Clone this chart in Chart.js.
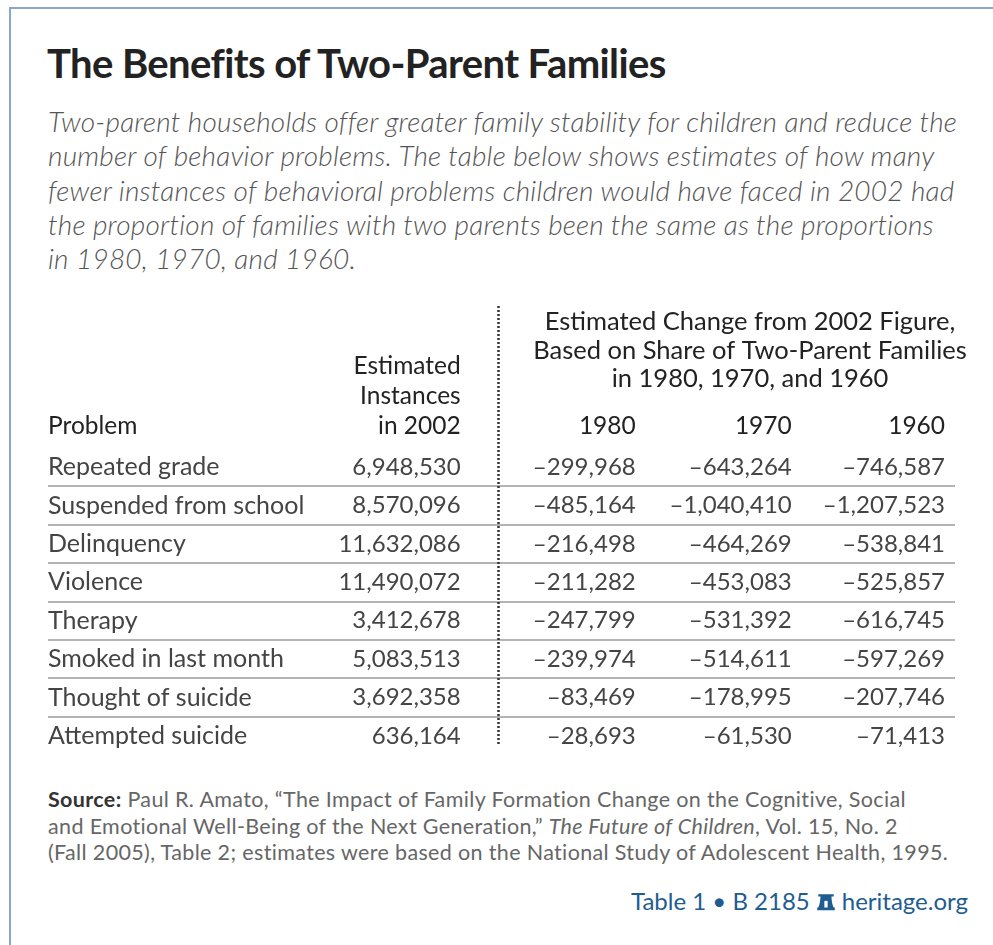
<!DOCTYPE html>
<html>
<head>
<meta charset="utf-8">
<title>The Benefits of Two-Parent Families</title>
<script src="https://cdn.jsdelivr.net/npm/chart.js@4.4.1/dist/chart.umd.min.js"></script>
<style>
  html, body { margin: 0; padding: 0; background: #fff; }
  body { width: 993px; height: 945px; position: relative; overflow: hidden; font-family: Lato, "Open Sans", sans-serif; }
  .frame { position: absolute; left: 9px; top: 7px; right: -2px; bottom: -2px; border-left: 2px solid #8aa6cb; border-top: 2px solid #8aa6cb; }
  #title { position: absolute; left: 47px; top: 40px; font-weight: 700; font-size: 40px; line-height: 46px; color: #222; letter-spacing: -0.6px; white-space: nowrap; }
  #subtitle { position: absolute; left: 48px; top: 104px; width: 930px; font-style: italic; font-weight: 300; font-size: 28px; line-height: 34.3px; color: #555; white-space: nowrap; letter-spacing: 0.2px; }
  #tableWrap { position: absolute; left: 0; top: 300px; width: 993px; height: 460px; }
  #source { position: absolute; left: 48px; top: 786px; font-size: 21.5px; line-height: 26.5px; color: #666; white-space: nowrap; letter-spacing: 0.35px; }
  #source b { color: #333; }
  #credit { position: absolute; right: 25px; top: 886px; font-size: 24px; line-height: 30px; color: #1f5c92; white-space: nowrap; }
  #credit svg { vertical-align: -3px; margin: 0 5px; }
</style>
</head>
<body>
<div class="frame"></div>
<div id="title">The Benefits of Two-Parent Families</div>
<div id="subtitle">Two-parent households offer greater family stability for children and reduce the<br>number of behavior problems. The table below shows estimates of how many<br>fewer instances of behavioral problems children would have faced in 2002 had<br>the proportion of families with two parents been the same as the proportions<br>in 1980, 1970, and 1960.</div>
<div id="tableWrap"><canvas id="table"></canvas></div>
<div id="source"><b>Source:</b> Paul R. Amato, “The Impact of Family Formation Change on the Cognitive, Social<br>and Emotional Well-Being of the Next Generation,” <i>The Future of Children</i>, Vol. 15, No. 2<br>(Fall 2005), Table 2; estimates were based on the National Study of Adolescent Health, 1995.</div>
<div id="credit">Table 1 • B 2185<svg width="22" height="22" viewBox="0 0 20 20"><path d="M3 3h14v2H3z M5 5c0 0 0 6 -2 10h14c-2-4-2-10-2-10z M2 15h16v2.5H2z" fill="#1f5c92"/><path d="M8.5 9h3v6h-3z" fill="#fff"/></svg>heritage.org</div>

<script>
const problems = [
    "Repeated grade",
    "Suspended from school",
    "Delinquency",
    "Violence",
    "Therapy",
    "Smoked in last month",
    "Thought of suicide",
    "Attempted suicide"
];
const instances2002 = [6948530, 8570096, 11632086, 11490072, 3412678, 5083513, 3692358, 636164];
const change1980 = [-299968, -485164, -216498, -211282, -247799, -239974, -83469, -28693];
const change1970 = [-643264, -1040410, -464269, -453083, -531392, -514611, -178995, -61530];
const change1960 = [-746587, -1207523, -538841, -525857, -616745, -597269, -207746, -71413];
const yearLabels = ["1980", "1970", "1960"];
const instancesHeader = ["Estimated", "Instances", "in 2002"];
const groupHeader = ["Estimated Change from 2002 Figure,", "Based on Share of Two-Parent Families", "in 1980, 1970, and 1960"];

// column anchors on the 0-100 x scale (right edges for numbers)
const colProblem = 0;
const colInstances = 45.5;
const colYears = [64.8, 82.0, 98.9];
const dividerAt = 49.6;
const groupCentre = 77.4;

function fmt(n) {
    return n.toLocaleString("en-US").replace("-", "\u2013");
}

function column(values, x, texts, align, font) {
    return {
        data: problems.map(p => ({ x: x, y: p })),
        cellText: texts || values.map(fmt),
        textAlign: align || "right",
        cellFont: font || "24px Lato",
        pointRadius: 0
    };
}

const tableText = {
    id: "tableText",
    afterDatasetsDraw(chart) {
        const { ctx, chartArea, scales: { x } } = chart;
        const top = chartArea.top;
        ctx.save();
        ctx.textBaseline = "middle";

        // cells
        chart.data.datasets.forEach((ds, i) => {
            const meta = chart.getDatasetMeta(i);
            ctx.font = ds.cellFont;
            ctx.fillStyle = "#444";
            ctx.textAlign = ds.textAlign;
            meta.data.forEach((pt, j) => ctx.fillText(ds.cellText[j], pt.x, pt.y));
        });

        // headers
        ctx.font = "24.5px Lato";
        ctx.fillStyle = "#222";
        ctx.textAlign = "left";
        ctx.fillText("Problem", x.getPixelForValue(colProblem), top - 22);
        ctx.textAlign = "right";
        instancesHeader.forEach((t, i) => ctx.fillText(t, x.getPixelForValue(colInstances), top - 82 + i * 30));
        yearLabels.forEach((t, i) => ctx.fillText(t, x.getPixelForValue(colYears[i]), top - 22));
        ctx.font = "25.5px Lato";
        ctx.textAlign = "center";
        groupHeader.forEach((t, i) => ctx.fillText(t, x.getPixelForValue(groupCentre), top - 126 + i * 28.5));

        // dotted divider
        const dx = Math.round(x.getPixelForValue(dividerAt)) + 0.5;
        ctx.strokeStyle = "#333";
        ctx.lineWidth = 2.5;
        ctx.setLineDash([2, 2]);
        ctx.beginPath();
        ctx.moveTo(dx, 6);
        ctx.lineTo(dx, chartArea.bottom - 10);
        ctx.stroke();
        ctx.restore();
    }
};

new Chart(document.getElementById("table"), {
    type: "scatter",
    data: {
        datasets: [
            column(null, colProblem, problems, "left", "25px Lato"),
            column(instances2002, colInstances),
            column(change1980, colYears[0]),
            column(change1970, colYears[1]),
            column(change1960, colYears[2])
        ]
    },
    options: {
        responsive: true,
        maintainAspectRatio: false,
        animation: false,
        events: [],
        layout: { padding: { left: 48, right: 38, top: 148, bottom: 5 } },
        plugins: {
            legend: { display: false },
            tooltip: { enabled: false }
        },
        scales: {
            x: { type: "linear", min: 0, max: 100, display: false },
            y: {
                type: "category",
                labels: problems,
                offset: true,
                ticks: { display: false },
                border: { display: false },
                grid: {
                    offset: true,
                    drawTicks: false,
                    lineWidth: 2,
                    color: ctx => (ctx.index > 0 && ctx.index < problems.length ? "#b4b4b4" : "rgba(0,0,0,0)")
                }
            }
        }
    },
    plugins: [tableText]
});
</script>
</body>
</html>
